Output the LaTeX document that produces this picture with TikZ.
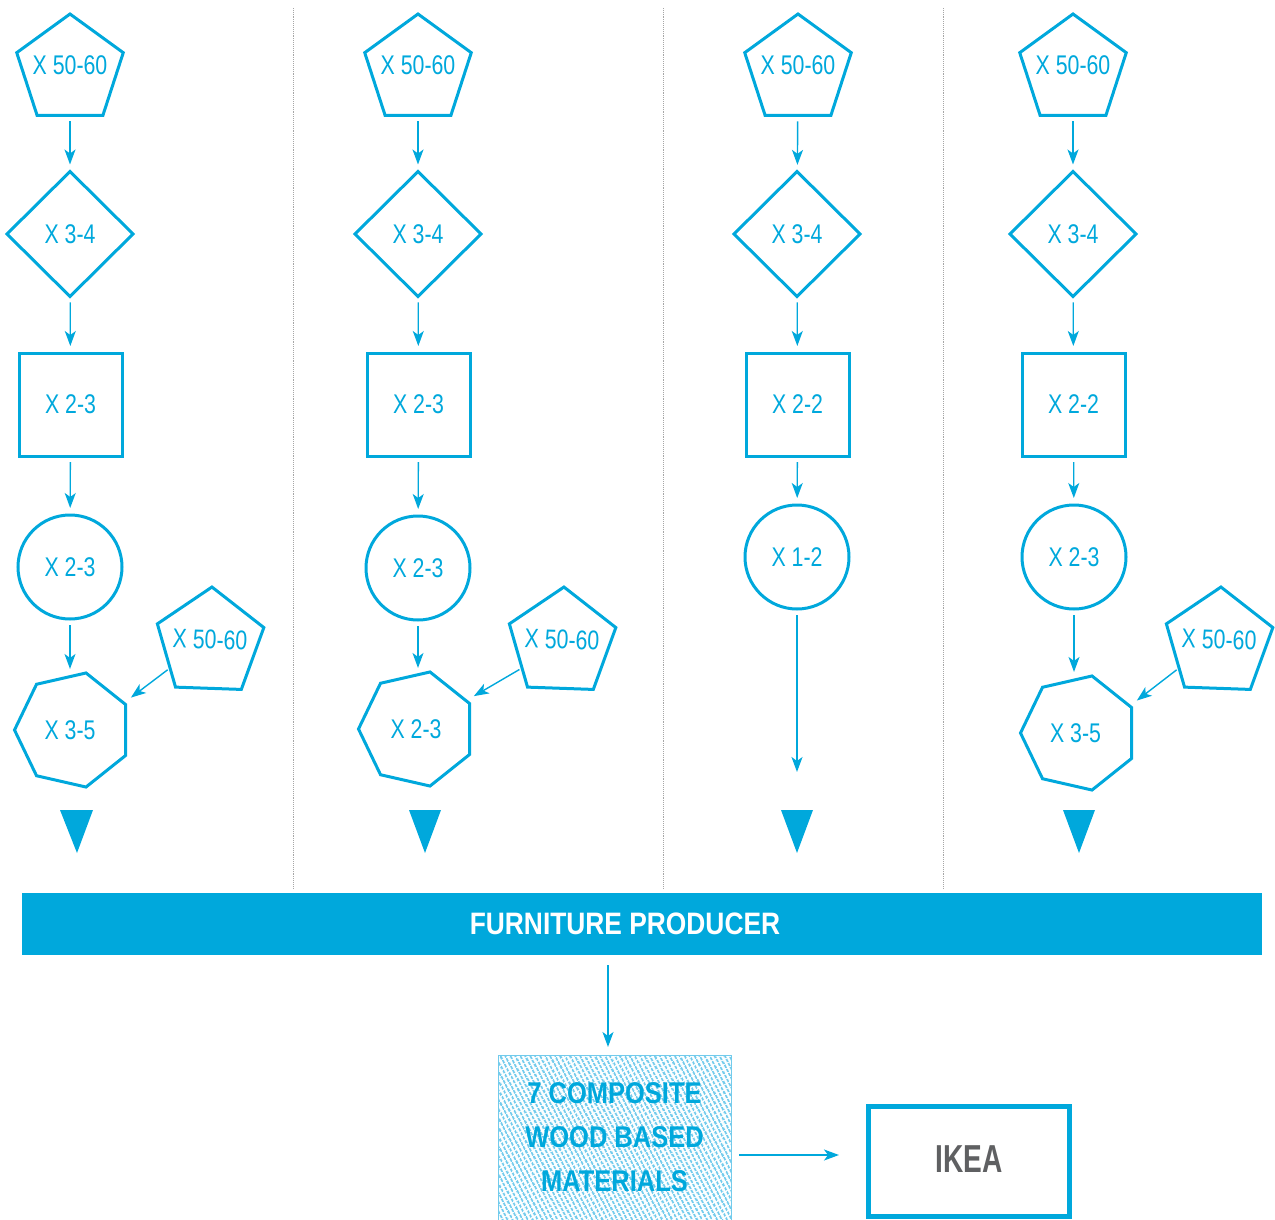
\documentclass[tikz,border=0pt]{standalone}
\usepackage{fontspec}
\setmainfont{Liberation Sans}
\newfontfamily\fthin[FakeStretch=0.79]{Liberation Sans}
\newfontfamily\fbold[FakeStretch=0.85]{Liberation Sans Bold}
\newfontfamily\fikea[FakeStretch=0.72]{Liberation Sans Bold}
\usetikzlibrary{shapes.geometric,arrows.meta,patterns.meta}
\definecolor{ib}{HTML}{00A8DC}
\definecolor{ig}{HTML}{5F6062}
\definecolor{hatchln}{HTML}{72CBEC}
\newcommand{\ptxt}[2]{\smash{\makebox[0pt]{\raisebox{#1}{#2}}}}
\newcommand{\htxt}[2]{\makebox[0pt]{\hspace*{#1}#2}}
\begin{document}
\begin{tikzpicture}[x=1pt,y=-1pt,
 shp/.style={draw=ib, line width=3pt, text=ib, font=\fthin\fontsize{27}{30}\selectfont, inner sep=0pt, outer sep=0pt},
 pent/.style={shp, regular polygon, regular polygon sides=5, minimum size=112pt},
 dia/.style={shp, diamond, minimum width=126pt, minimum height=125pt},
 sq/.style={shp, rectangle, minimum size=103pt},
 circ/.style={shp, circle, minimum size=104pt},
 hept/.style={shp, regular polygon, regular polygon sides=7, regular polygon rotate=90, minimum size=117pt},
 arr/.style={draw=ib, line width=1.4pt, -{Stealth[length=15pt,width=11pt,inset=4pt]}, shorten <=6pt, shorten >=7pt},
 sep/.style={draw=gray!70, line width=0.9pt, densely dotted},
 tri/.style={fill=ib}
]
\useasboundingbox (0,0) rectangle (1275,1220);

% separators
\draw[sep] (293,8) -- (293,888);
\draw[sep] (663,8) -- (663,888);
\draw[sep] (943,8) -- (943,888);

% column 1
\node[pent] (p1) at (70,70) {\ptxt{-5pt}{X 50-60}};
\node[dia] (d1) at (70,234) {X 3-4};
\node[sq] (s1) at (70.5,404.5) {X 2-3};
\node[circ] (c1) at (70,567) {X 2-3};
\node[hept] (h1) at (73,730) {\htxt{-6pt}{X 3-5}};
\node[pent, rotate=-2] (q1) at (210,643) {\ptxt{-6pt}{X 50-60}};
\draw[arr] (p1) -- (d1);
\draw[arr] (d1) -- (s1);
\draw[arr] (s1) -- (c1);
\draw[arr] (c1) -- (c1 |- h1.north);
\draw[arr, shorten <=3pt, shorten >=9pt] (q1.214) -- (h1.28);
\fill[tri] (60,810) -- (93,810) -- (77,853) -- cycle;

% column 2
\node[pent] (p2) at (418,70) {\ptxt{-5pt}{X 50-60}};
\node[dia] (d2) at (418,234) {X 3-4};
\node[sq] (s2) at (418.5,404.5) {X 2-3};
\node[circ] (c2) at (418,568) {X 2-3};
\node[hept] (h2) at (417,729) {\htxt{-2pt}{X 2-3}};
\node[pent, rotate=-2] (q2) at (562,643) {\ptxt{-6pt}{X 50-60}};
\draw[arr] (p2) -- (d2);
\draw[arr] (d2) -- (s2);
\draw[arr] (s2) -- (c2);
\draw[arr] (c2) -- (c2 |- h2.north);
\draw[arr, shorten <=3pt, shorten >=9pt] (q2.214) -- (h2.30);
\fill[tri] (409,810) -- (441,810) -- (425,853) -- cycle;

% column 3
\node[pent] (p3) at (798,70) {\ptxt{-5pt}{X 50-60}};
\node[dia] (d3) at (797,234) {X 3-4};
\node[sq] (s3) at (797.5,404.5) {X 2-2};
\node[circ] (c3) at (797,557) {X 1-2};
\coordinate (e3) at (797,772);
\draw[arr] (p3) -- (d3);
\draw[arr] (d3) -- (s3);
\draw[arr] (s3) -- (c3);
\draw[arr, shorten >=0pt] (c3) -- (e3);
\fill[tri] (781,810) -- (813,810) -- (797,853) -- cycle;

% column 4
\node[pent] (p4) at (1073,70) {\ptxt{-5pt}{X 50-60}};
\node[dia] (d4) at (1073,234) {X 3-4};
\node[sq] (s4) at (1073.5,404.5) {X 2-2};
\node[circ] (c4) at (1074,557) {X 2-3};
\node[hept] (h4) at (1079,733) {\htxt{-7pt}{X 3-5}};
\node[pent, rotate=-2] (q4) at (1219,643) {\ptxt{-6pt}{X 50-60}};
\draw[arr] (p4) -- (d4);
\draw[arr] (d4) -- (s4);
\draw[arr] (s4) -- (c4);
\draw[arr] (c4) -- (c4 |- h4.north);
\draw[arr, shorten <=3pt, shorten >=9pt] (q4.214) -- (h4.28);
\fill[tri] (1063,810) -- (1095,810) -- (1079,853) -- cycle;

% bar
\node[fill=ib, minimum width=1240pt, minimum height=62pt, inner sep=0pt] (bar) at (642,924) {};
\node[text=white, inner sep=0pt, font=\fbold\fontsize{31}{34}\selectfont] (bt) at (625,924) {FURNITURE PRODUCER};

% hatched box
\node[draw=hatchln, line width=1pt, pattern={Lines[angle=-62, distance=4pt, line width=2.1pt]}, pattern color=hatchln,
      minimum width=233pt, minimum height=165pt, inner sep=0pt, text=ib, align=center,
      font=\fbold\fontsize{30}{44}\selectfont] (hb) at (614.5,1137.5) {7 COMPOSITE\\WOOD BASED\\MATERIALS};

% IKEA
\node[draw=ib, line width=5pt, minimum width=201pt, minimum height=110pt, inner sep=0pt, text=ig,
      font=\fikea\fontsize{39}{42}\selectfont] (ik) at (969,1161.5) {\raisebox{4pt}{IKEA}};

\coordinate (ac) at (0,1155);
\draw[arr, shorten <=0pt, shorten >=0pt] ([yshift=-10pt]bar.south -| 608,0) -- (608,1047);
\draw[arr, shorten <=7pt, shorten >=27pt] (hb.east |- ac) -- (ik.west |- ac);
\end{tikzpicture}
\end{document}
